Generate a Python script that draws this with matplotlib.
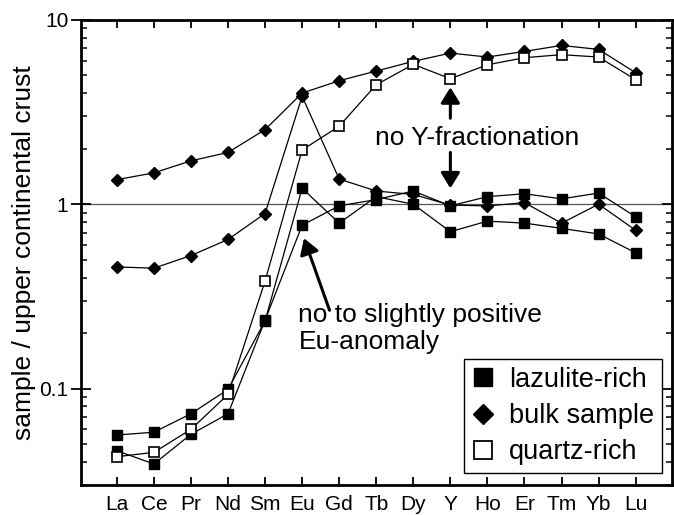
import matplotlib
matplotlib.use('Agg')
import matplotlib.pyplot as plt
from matplotlib.lines import Line2D
from matplotlib.ticker import NullFormatter, LogLocator

plt.rcParams['font.family'] = ['Liberation Sans', 'DejaVu Sans']

elements = ['La', 'Ce', 'Pr', 'Nd', 'Sm', 'Eu', 'Gd', 'Tb', 'Dy', 'Y', 'Ho', 'Er', 'Tm', 'Yb', 'Lu']

# two lazulite-rich samples
lazulite_a = [0.056, 0.058, 0.073, 0.099, 0.233, 1.22, 0.79, 1.10, 1.00, 0.71, 0.81, 0.79, 0.74, 0.69, 0.545]
lazulite_b = [0.046, 0.039, 0.0565, 0.073, 0.235, 0.77, 0.98, 1.06, 1.18, 0.98, 1.10, 1.14, 1.07, 1.15, 0.855]
# two bulk samples
bulk_hi = [1.36, 1.48, 1.72, 1.91, 2.54, 4.01, 4.68, 5.28, 5.96, 6.61, 6.29, 6.75, 7.27, 6.92, 5.17]
bulk_lo = [0.457, 0.450, 0.527, 0.644, 0.891, 3.85, 1.37, 1.18, 1.13, 0.99, 0.98, 1.02, 0.79, 1.0, 0.723]
# quartz-rich sample
quartz = [0.0427, 0.0451, 0.0601, 0.093, 0.383, 1.97, 2.65, 4.45, 5.74, 4.80, 5.71, 6.24, 6.48, 6.29, 4.74]

x = list(range(len(elements)))

fig = plt.figure(figsize=(6.74, 5.15), dpi=100)
ax = fig.add_axes([0.120, 0.0583, 0.877, 0.903])

ax.axhline(1, color='#555555', lw=0.9, zorder=1)

line_kw = dict(color='black', lw=0.9, zorder=3)
for s in (bulk_hi, bulk_lo):
    ax.plot(x, s, marker='D', ms=6.5, mfc='black', mec='black', **line_kw)
for s in (lazulite_a, lazulite_b):
    ax.plot(x, s, marker='s', ms=7, mfc='black', mec='black', **line_kw)
ax.plot(x, quartz, marker='s', ms=7, mfc='white', mec='black', mew=1.2, **line_kw)

ax.set_yscale('log')
ax.set_ylim(0.03, 10)
ax.set_xlim(-0.97, 14.98)

ax.set_xticks(x)
ax.set_xticklabels(elements)
ax.set_yticks([0.1, 1, 10])
ax.set_yticklabels(['0.1', '1', '10'])
ax.yaxis.set_minor_locator(LogLocator(base=10, subs=range(2, 10)))
ax.yaxis.set_minor_formatter(NullFormatter())

ax.tick_params(axis='x', direction='in', top=True, length=6, width=1.3, labelsize=15, pad=7)
ax.tick_params(axis='y', which='major', direction='inout', length=14, width=1.3, labelsize=15, pad=2)
ax.tick_params(axis='y', which='minor', direction='in', length=4, width=1.1)
for sp in ax.spines.values():
    sp.set_linewidth(2)

# right side ticks point inward only
ax2 = ax.twinx()
ax2.set_yscale('log')
ax2.set_ylim(ax.get_ylim())
ax2.set_yticks([0.1, 1, 10])
ax2.yaxis.set_minor_locator(LogLocator(base=10, subs=range(2, 10)))
ax2.yaxis.set_minor_formatter(NullFormatter())
ax2.tick_params(axis='y', which='major', direction='in', length=7, width=1.3, labelright=False)
ax2.tick_params(axis='y', which='minor', direction='in', length=4, width=1.1)

ax.set_ylabel('sample / upper continental crust', fontsize=19, labelpad=2)

# annotations
ax.text(9.72, 2.09, 'no Y-fractionation', fontsize=19, ha='center', va='baseline')
arrow_kw = dict(arrowstyle='-|>,head_width=0.29,head_length=0.47', mutation_scale=20,
                color='black', lw=2.2, shrinkA=0, shrinkB=0)
ax.annotate('', xy=(9, 4.31), xytext=(9, 2.93), arrowprops=arrow_kw)
ax.annotate('', xy=(9, 1.22), xytext=(9, 1.91), arrowprops=arrow_kw)
ax.annotate('', xy=(5.05, 0.654), xytext=(5.74, 0.266), arrowprops=arrow_kw)
ax.text(4.90, 0.163, 'no to slightly positive\nEu-anomaly', fontsize=19, ha='left',
        va='baseline', linespacing=1.2)

handles = [
    Line2D([], [], ls='none', marker='s', ms=13, mfc='black', mec='black'),
    Line2D([], [], ls='none', marker='D', ms=10, mfc='black', mec='black'),
    Line2D([], [], ls='none', marker='s', ms=13, mfc='white', mec='black', mew=1.3),
]
leg = ax.legend(handles, ['lazulite-rich', 'bulk sample', 'quartz-rich'], loc='lower right',
                bbox_to_anchor=(0.983, 0.026), borderaxespad=0, fontsize=19.5, fancybox=False,
                framealpha=1, edgecolor='black', handlelength=0.9, handletextpad=0.5,
                labelspacing=0.38, borderpad=0.28)
leg.get_frame().set_linewidth(1.0)
leg.set_zorder(5)

fig.savefig('out.png', dpi=100)
